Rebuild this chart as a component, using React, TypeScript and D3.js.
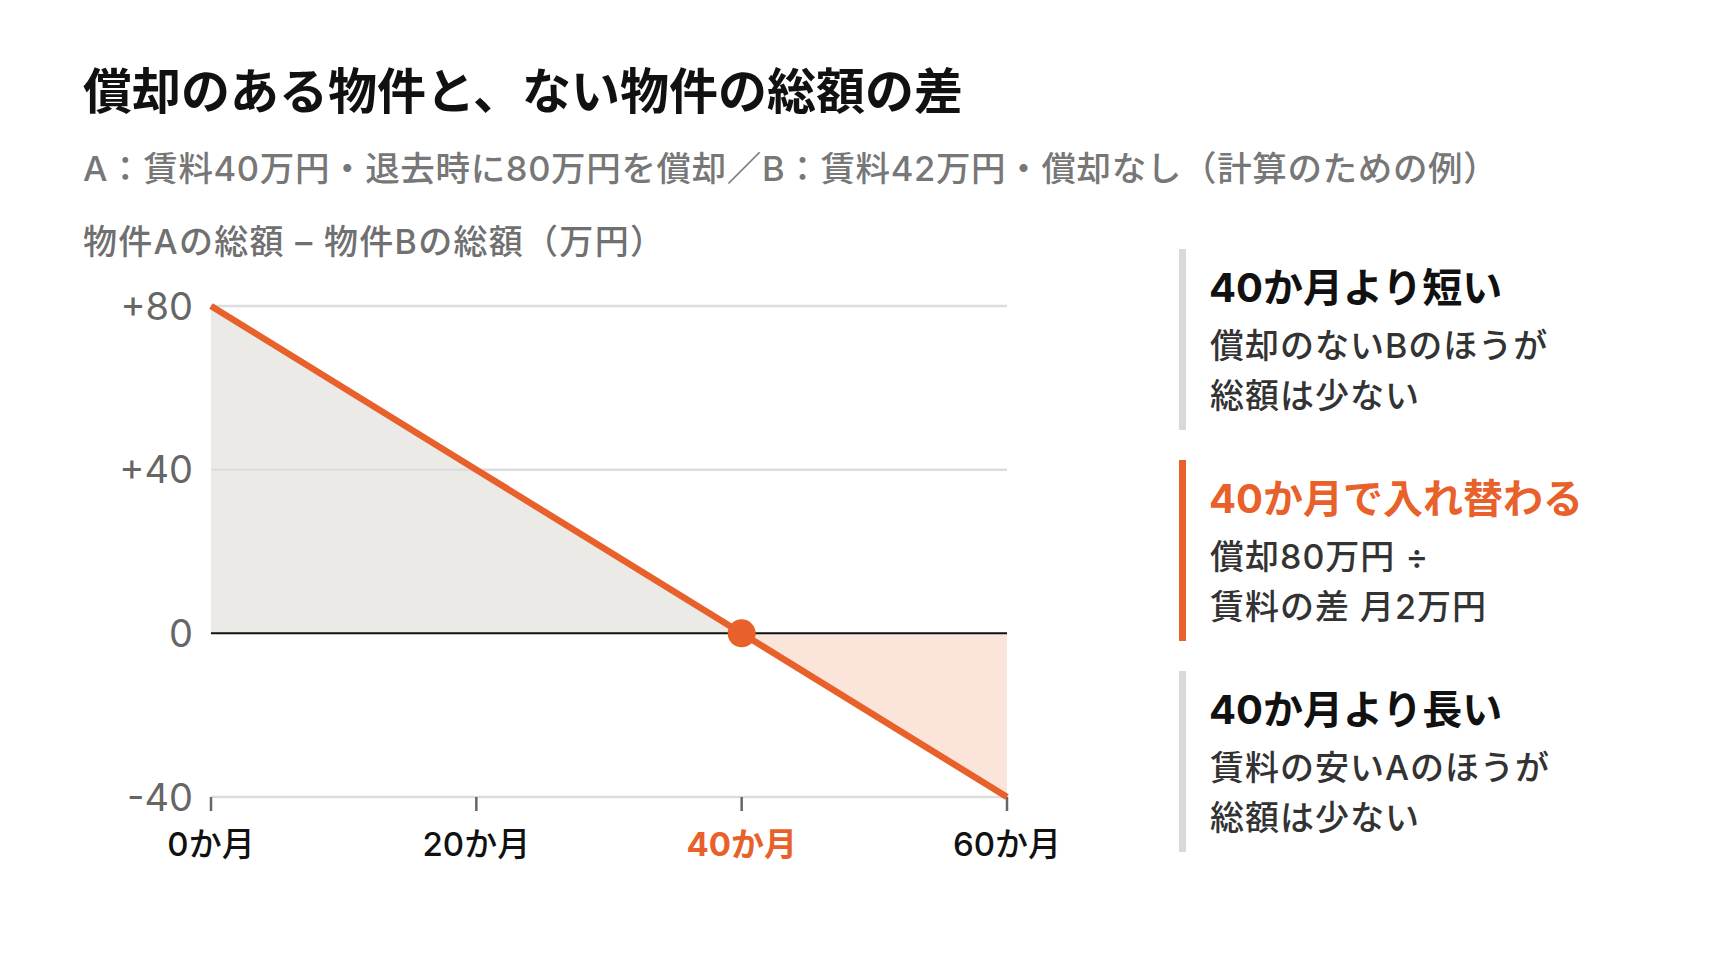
import React from "react";
import * as d3 from "d3";

const months = [0, 20, 40, 60];
const diffValues = [80, 40, 0, -40];
const yTicks = [80, 40, 0, -40];
const yTickLabels = ["+80", "+40", "0", "-40"];
const xTickLabels = ["0か月", "20か月", "40か月", "60か月"];
const crossMonth = 40;

const title = "償却のある物件と、ない物件の総額の差";
const subtitle = "A：賃料40万円・退去時に80万円を償却／B：賃料42万円・償却なし（計算のための例）";
const axisTitle = "物件Aの総額 – 物件Bの総額（万円）";

const panelHeadings = ["40か月より短い", "40か月で入れ替わる", "40か月より長い"];
const panelBodies = [
  ["償却のないBのほうが", "総額は少ない"],
  ["償却80万円 ÷", "賃料の差 月2万円"],
  ["賃料の安いAのほうが", "総額は少ない"],
];
const panelHighlight = [false, true, false];

const ORANGE = "#E8602A";
const FONT = "Inter, 'Noto Sans CJK JP', 'Noto Sans', sans-serif";

export default function App() {
  const W = 1736;
  const H = 976;
  const x = d3.scaleLinear().domain([0, 60]).range([211, 1007]);
  const y = d3.scaleLinear().domain([-40, 80]).range([797, 306]);

  const pts = months.map((m, i) => ({ m, v: diffValues[i] }));
  const posPts = pts.filter((p) => p.m <= crossMonth);
  const negPts = pts.filter((p) => p.m >= crossMonth);

  const area = d3
    .area<{ m: number; v: number }>()
    .x((d) => x(d.m))
    .y0(y(0))
    .y1((d) => y(d.v));
  const line = d3
    .line<{ m: number; v: number }>()
    .x((d) => x(d.m))
    .y((d) => y(d.v));

  const crossIdx = months.indexOf(crossMonth);

  const panelTop = [249, 460, 671];
  const barH = 181;

  return (
    <svg
      width={W}
      height={H}
      style={{ position: "absolute", left: 0, top: 0, background: "#fff" }}
      fontFamily={FONT}
    >
      <text x={83} y={109} fontSize={49} fontWeight={700} fill="#111">
        {title}
      </text>
      <text x={83} y={181} fontSize={34.5} fontWeight={500} fill="#777" letterSpacing={0.65}>
        {subtitle}
      </text>
      <text x={83} y={254} fontSize={34} fontWeight={500} fill="#707070" letterSpacing={1.3}>
        {axisTitle}
      </text>

      {/* areas */}
      <path d={area(posPts) || ""} fill="#ECEAE6" />
      <path d={area(negPts) || ""} fill="#FBE5DA" />

      {/* gridlines */}
      {yTicks.map((t) =>
        t === 0 ? null : (
          <line
            key={t}
            x1={x(0)}
            x2={x(60)}
            y1={y(t)}
            y2={y(t)}
            stroke="#DDDDDD"
            strokeWidth={2.5}
          />
        )
      )}
      <line x1={x(0)} x2={x(60)} y1={y(0)} y2={y(0)} stroke="#111" strokeWidth={2} />

      {/* x ticks */}
      {months.map((m) => (
        <line
          key={m}
          x1={x(m)}
          x2={x(m)}
          y1={y(-40)}
          y2={y(-40) + 14}
          stroke="#666"
          strokeWidth={2.5}
        />
      ))}

      {/* y labels */}
      {yTicks.map((t, i) => (
        <text
          key={t}
          x={193}
          y={y(t)}
          dy="0.36em"
          textAnchor="end"
          fontSize={38}
          fontWeight={400}
          fill="#666"
        >
          {yTickLabels[i]}
        </text>
      ))}

      {/* x labels */}
      {months.map((m, i) => (
        <text
          key={m}
          x={x(m)}
          y={856}
          textAnchor="middle"
          fontSize={33}
          fontWeight={m === crossMonth ? 700 : 500}
          fill={m === crossMonth ? ORANGE : "#111"}
        >
          {xTickLabels[i]}
        </text>
      ))}

      {/* line */}
      <path d={line(pts) || ""} fill="none" stroke={ORANGE} strokeWidth={6.5} />
      <circle cx={x(months[crossIdx])} cy={y(diffValues[crossIdx])} r={14} fill={ORANGE} />

      {/* right panel */}
      {panelHeadings.map((h, i) => {
        const top = panelTop[i];
        const hl = panelHighlight[i];
        return (
          <g key={h}>
            <rect x={1179} y={top} width={7} height={barH} fill={hl ? ORANGE : "#D9D9D9"} />
            <text
              x={1209}
              y={top + 53}
              fontSize={40}
              fontWeight={700}
              fill={hl ? ORANGE : "#111"}
            >
              {h}
            </text>
            {panelBodies[i].map((b, j) => (
              <text
                key={j}
                x={1210}
                y={top + 109 + j * 50}
                fontSize={34}
                fontWeight={500}
                fill="#333"
                letterSpacing={1}
              >
                {b}
              </text>
            ))}
          </g>
        );
      })}
    </svg>
  );
}
